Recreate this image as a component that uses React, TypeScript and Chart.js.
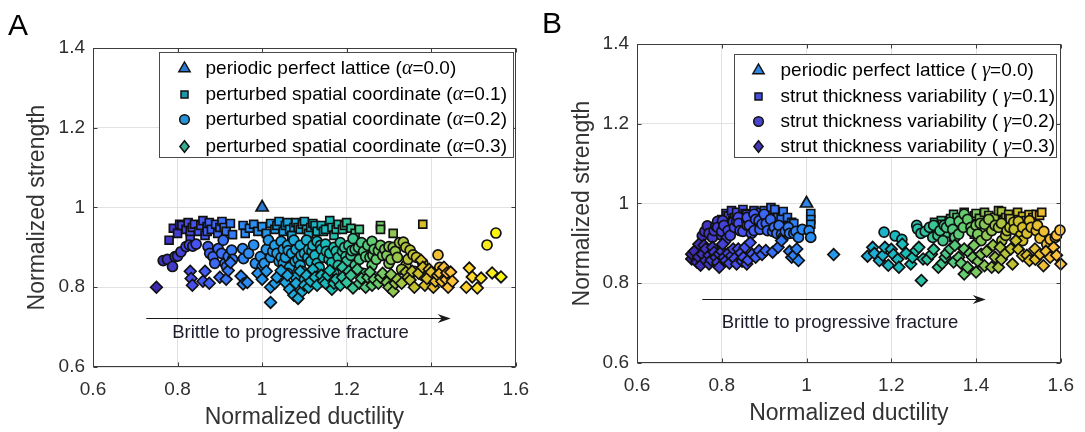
import React, { useEffect, useRef } from "react";
import { Chart, registerables } from "chart.js";

Chart.register(...registerables);

type Pt = [number, number];

// Axis ticks and labels shared by both panels
const xTickValues = [0.6, 0.8, 1.0, 1.2, 1.4, 1.6];
const yTickValues = [0.6, 0.8, 1.0, 1.2, 1.4];
const xAxisTitle = "Normalized ductility";
const yAxisTitle = "Normalized strength";
const arrowCaption = "Brittle to progressive fracture";

const levelValues = ["0.0", "0.1", "0.2", "0.3"];
const aSeriesNames = [
  "periodic perfect lattice",
  "perturbed spatial coordinate",
  "perturbed spatial coordinate",
  "perturbed spatial coordinate",
];
const bSeriesNames = [
  "periodic perfect lattice",
  "strut thickness variability",
  "strut thickness variability",
  "strut thickness variability",
];

// ---- Panel A: perturbed spatial coordinate (alpha) ----
const aTriangle: Pt[] = [[1.0, 1.0]];

const aSquares: Pt[] = [
  [0.78, 0.918], [0.79, 0.948], [0.8, 0.935], [0.805, 0.958], [0.81, 0.955], [0.82, 0.945],
  [0.825, 0.962], [0.83, 0.925], [0.83, 0.94], [0.835, 0.95], [0.84, 0.958], [0.85, 0.94],
  [0.855, 0.955], [0.86, 0.967], [0.865, 0.93], [0.87, 0.952], [0.87, 0.94], [0.875, 0.962],
  [0.88, 0.945], [0.89, 0.958], [0.895, 0.935], [0.9, 0.95], [0.905, 0.965], [0.91, 0.95],
  [0.915, 0.94], [0.925, 0.96], [0.93, 0.932],
  [0.955, 0.955], [0.96, 0.935], [0.97, 0.948], [0.98, 0.958], [0.99, 0.94], [1.0, 0.952],
  [1.01, 0.935], [1.02, 0.96], [1.03, 0.945], [1.035, 0.955], [1.04, 0.965], [1.05, 0.94],
  [1.055, 0.955], [1.06, 0.962], [1.065, 0.945], [1.07, 0.93], [1.075, 0.95], [1.08, 0.962],
  [1.085, 0.95], [1.09, 0.945], [1.095, 0.958], [1.1, 0.965], [1.105, 0.945], [1.11, 0.935],
  [1.115, 0.95], [1.12, 0.96], [1.125, 0.955], [1.13, 0.94], [1.14, 0.955], [1.145, 0.94],
  [1.15, 0.945], [1.16, 0.967], [1.165, 0.95], [1.17, 0.93], [1.175, 0.945], [1.18, 0.958],
  [1.19, 0.945], [1.195, 0.955], [1.2, 0.962], [1.21, 0.948], [1.22, 0.935], [1.23, 0.945],
  [1.28, 0.955], [1.28, 0.945], [1.31, 0.935], [1.38, 0.958],
];

const aCircles: Pt[] = [
  [0.766, 0.867], [0.776, 0.87], [0.788, 0.852], [0.794, 0.877], [0.8, 0.878], [0.808, 0.889],
  [0.82, 0.902], [0.828, 0.906], [0.836, 0.903], [0.844, 0.908],
  [0.872, 0.902], [0.876, 0.885], [0.884, 0.877], [0.888, 0.86], [0.896, 0.897], [0.904, 0.885],
  [0.908, 0.918], [0.912, 0.86], [0.916, 0.852], [0.92, 0.877], [0.928, 0.893], [0.93, 0.87],
  [0.954, 0.897], [0.956, 0.872], [0.968, 0.885], [0.98, 0.906], [0.984, 0.86], [0.996, 0.877],
  [1.0, 0.852], [1.005, 0.86], [1.01, 0.895], [1.015, 0.918], [1.02, 0.875], [1.025, 0.89],
  [1.03, 0.905], [1.035, 0.885], [1.04, 0.865], [1.045, 0.915], [1.045, 0.875], [1.05, 0.895],
  [1.05, 0.86], [1.055, 0.875], [1.06, 0.905], [1.062, 0.892], [1.065, 0.85], [1.07, 0.885],
  [1.075, 0.918], [1.078, 0.865], [1.08, 0.895], [1.085, 0.87], [1.09, 0.905], [1.09, 0.855],
  [1.092, 0.88], [1.095, 0.84], [1.1, 0.885], [1.105, 0.918], [1.108, 0.875], [1.11, 0.895],
  [1.115, 0.865], [1.118, 0.89], [1.12, 0.905], [1.125, 0.88], [1.13, 0.915], [1.13, 0.86],
  [1.135, 0.85], [1.138, 0.905], [1.14, 0.895], [1.145, 0.875], [1.15, 0.908], [1.152, 0.89],
  [1.158, 0.87], [1.16, 0.885], [1.165, 0.862], [1.17, 0.9], [1.175, 0.89], [1.18, 0.875],
  [1.18, 0.855], [1.185, 0.912], [1.19, 0.89], [1.195, 0.9], [1.198, 0.877], [1.2, 0.865],
  [1.205, 0.905], [1.21, 0.88], [1.212, 0.892], [1.215, 0.922], [1.22, 0.895], [1.22, 0.855],
  [1.228, 0.9], [1.23, 0.87], [1.235, 0.912], [1.24, 0.89], [1.245, 0.877], [1.25, 0.905],
  [1.255, 0.875], [1.26, 0.915], [1.26, 0.855], [1.262, 0.88], [1.265, 0.895], [1.27, 0.87],
  [1.275, 0.892], [1.28, 0.905], [1.285, 0.88], [1.29, 0.895], [1.295, 0.88], [1.3, 0.902],
  [1.3, 0.86], [1.305, 0.87], [1.31, 0.9], [1.315, 0.89], [1.32, 0.875], [1.325, 0.912],
  [1.334, 0.913], [1.34, 0.9], [1.34, 0.855], [1.345, 0.87], [1.35, 0.893], [1.357, 0.881],
  [1.365, 0.875], [1.38, 0.86],
  [1.06, 0.835], [1.08, 0.825], [1.1, 0.82], [1.12, 0.83], [1.14, 0.82], [1.17, 0.835],
  [1.2, 0.83], [1.24, 0.835], [1.29, 0.82], [1.31, 0.81], [1.33, 0.845], [1.36, 0.84],
  [1.38, 0.83], [1.416, 0.881], [1.42, 0.85], [1.43, 0.82], [1.532, 0.906], [1.553, 0.936],
];

const aDiamonds: Pt[] = [
  [0.75, 0.8], [0.83, 0.84], [0.832, 0.822], [0.835, 0.805], [0.86, 0.815], [0.865, 0.84],
  [0.875, 0.81], [0.9, 0.825], [0.915, 0.82], [0.92, 0.842], [0.925, 0.862], [0.95, 0.828],
  [0.955, 0.808], [0.965, 0.812], [0.99, 0.835], [1.0, 0.82], [1.01, 0.84], [1.02, 0.8],
  [1.02, 0.762], [1.03, 0.81], [1.035, 0.825], [1.045, 0.842], [1.055, 0.812], [1.06, 0.83],
  [1.065, 0.795], [1.075, 0.78], [1.08, 0.81], [1.085, 0.772], [1.09, 0.84], [1.095, 0.79],
  [1.1, 0.805], [1.105, 0.83], [1.11, 0.8], [1.115, 0.815], [1.12, 0.845], [1.125, 0.825],
  [1.13, 0.805], [1.14, 0.83], [1.145, 0.815], [1.15, 0.81], [1.155, 0.83], [1.16, 0.842],
  [1.165, 0.795], [1.17, 0.81], [1.175, 0.82], [1.185, 0.805], [1.19, 0.85], [1.19, 0.825],
  [1.2, 0.812], [1.205, 0.84], [1.21, 0.83], [1.215, 0.798], [1.225, 0.845], [1.23, 0.81],
  [1.235, 0.822], [1.245, 0.8], [1.25, 0.825], [1.255, 0.838], [1.26, 0.805], [1.265, 0.82],
  [1.275, 0.81], [1.28, 0.825], [1.285, 0.835], [1.295, 0.812], [1.3, 0.8], [1.305, 0.832],
  [1.31, 0.79], [1.315, 0.81], [1.32, 0.82], [1.33, 0.81], [1.34, 0.838], [1.345, 0.825],
  [1.35, 0.818], [1.355, 0.84], [1.36, 0.8], [1.37, 0.835], [1.376, 0.868], [1.38, 0.85],
  [1.385, 0.805], [1.39, 0.822], [1.395, 0.845], [1.4, 0.838], [1.405, 0.8], [1.41, 0.815],
  [1.415, 0.83], [1.42, 0.835], [1.425, 0.815], [1.43, 0.85], [1.435, 0.82], [1.437, 0.836],
  [1.44, 0.8], [1.446, 0.838], [1.45, 0.815], [1.483, 0.8], [1.49, 0.848], [1.497, 0.826],
  [1.509, 0.798], [1.518, 0.823], [1.544, 0.836], [1.565, 0.826],
];

// ---- Panel B: strut thickness variability (gamma) ----
const bTriangle: Pt[] = [[1.0, 1.0]];

const bSquares: Pt[] = [
  [0.778, 0.932], [0.794, 0.948], [0.8, 0.96], [0.81, 0.975], [0.815, 0.969], [0.823, 0.982],
  [0.826, 0.957], [0.83, 0.965], [0.835, 0.978], [0.843, 0.963], [0.85, 0.985], [0.855, 0.975],
  [0.859, 0.973], [0.867, 0.957], [0.87, 0.965], [0.876, 0.982], [0.88, 0.968], [0.885, 0.975],
  [0.892, 0.978], [0.9, 0.953], [0.9, 0.982], [0.908, 0.973], [0.915, 0.975], [0.916, 0.99],
  [0.925, 0.985], [0.932, 0.965], [0.94, 0.962], [0.945, 0.98], [0.955, 0.965], [0.965, 0.953],
  [0.97, 0.95], [1.01, 0.975], [1.01, 0.96], [1.01, 0.948],
  [1.302, 0.953], [1.306, 0.923], [1.31, 0.94], [1.318, 0.957], [1.32, 0.948], [1.326, 0.932],
  [1.33, 0.94], [1.33, 0.925], [1.34, 0.962], [1.347, 0.973], [1.347, 0.915], [1.355, 0.965],
  [1.359, 0.948], [1.36, 0.935], [1.365, 0.958], [1.372, 0.978], [1.375, 0.95], [1.383, 0.957],
  [1.39, 0.945], [1.396, 0.969], [1.396, 0.923], [1.4, 0.975], [1.408, 0.963], [1.41, 0.94],
  [1.42, 0.978], [1.42, 0.932], [1.428, 0.953], [1.43, 0.97], [1.435, 0.955], [1.444, 0.965],
  [1.45, 0.945], [1.453, 0.982], [1.46, 0.98], [1.465, 0.957], [1.47, 0.965], [1.477, 0.973],
  [1.48, 0.962], [1.493, 0.948], [1.498, 0.978], [1.5, 0.96], [1.51, 0.968], [1.518, 0.957],
  [1.525, 0.972], [1.534, 0.965], [1.542, 0.973], [1.55, 0.97], [1.555, 0.978],
];

const bCircles: Pt[] = [
  [0.754, 0.919], [0.76, 0.93], [0.766, 0.944], [0.77, 0.925], [0.778, 0.915], [0.782, 0.932],
  [0.786, 0.944], [0.79, 0.955], [0.79, 0.94], [0.8, 0.92], [0.8, 0.93], [0.802, 0.957],
  [0.805, 0.945], [0.81, 0.91], [0.815, 0.932], [0.82, 0.92], [0.827, 0.953], [0.83, 0.94],
  [0.835, 0.955], [0.839, 0.965], [0.84, 0.95], [0.843, 0.932], [0.85, 0.93], [0.859, 0.957],
  [0.86, 0.945], [0.86, 0.965], [0.865, 0.945], [0.87, 0.925], [0.876, 0.932], [0.876, 0.973],
  [0.88, 0.96], [0.888, 0.957], [0.89, 0.935], [0.895, 0.948], [0.9, 0.973], [0.905, 0.95],
  [0.908, 0.932], [0.915, 0.96], [0.92, 0.93], [0.924, 0.94], [0.93, 0.925], [0.935, 0.945],
  [0.941, 0.923], [0.945, 0.915], [0.95, 0.93], [0.957, 0.94], [0.96, 0.925], [0.97, 0.925],
  [0.975, 0.93], [0.981, 0.915], [0.99, 0.935], [1.006, 0.932], [1.01, 0.915],
  [1.183, 0.928], [1.209, 0.919], [1.225, 0.91], [1.26, 0.945], [1.262, 0.936], [1.27, 0.925],
  [1.28, 0.93], [1.29, 0.94], [1.298, 0.915], [1.3, 0.945], [1.31, 0.92], [1.315, 0.932],
  [1.322, 0.907], [1.325, 0.945], [1.33, 0.94], [1.339, 0.953], [1.345, 0.935], [1.35, 0.915],
  [1.359, 0.923], [1.36, 0.955], [1.37, 0.94], [1.372, 0.973], [1.38, 0.96], [1.388, 0.94],
  [1.39, 0.93], [1.4, 0.945], [1.404, 0.923], [1.41, 0.95], [1.412, 0.907], [1.42, 0.948],
  [1.425, 0.92], [1.43, 0.96], [1.437, 0.932], [1.445, 0.945], [1.453, 0.94], [1.46, 0.95],
  [1.461, 0.907], [1.47, 0.92], [1.473, 0.932], [1.48, 0.94], [1.489, 0.953], [1.49, 0.935],
  [1.5, 0.955], [1.505, 0.92], [1.51, 0.94], [1.51, 0.907], [1.52, 0.925], [1.526, 0.957],
  [1.53, 0.94], [1.542, 0.932], [1.545, 0.945], [1.551, 0.913], [1.56, 0.93], [1.567, 0.898],
  [1.575, 0.91], [1.587, 0.915], [1.59, 0.92], [1.598, 0.933],
];

const bDiamonds: Pt[] = [
  [0.729, 0.861], [0.729, 0.873], [0.735, 0.88], [0.741, 0.853], [0.745, 0.866], [0.746, 0.898],
  [0.75, 0.845], [0.754, 0.873], [0.758, 0.895], [0.762, 0.886], [0.762, 0.857], [0.77, 0.848],
  [0.77, 0.87], [0.775, 0.858], [0.778, 0.89], [0.782, 0.878], [0.786, 0.865], [0.79, 0.852],
  [0.794, 0.84], [0.794, 0.873], [0.8, 0.88], [0.802, 0.898], [0.805, 0.865], [0.81, 0.857],
  [0.815, 0.875], [0.818, 0.85], [0.823, 0.869], [0.827, 0.886], [0.83, 0.862], [0.835, 0.848],
  [0.839, 0.886], [0.845, 0.876], [0.848, 0.855], [0.851, 0.865], [0.855, 0.89], [0.859, 0.848],
  [0.862, 0.858], [0.867, 0.902], [0.872, 0.873], [0.88, 0.865], [0.888, 0.882], [0.895, 0.872],
  [0.904, 0.882], [0.92, 0.878], [0.933, 0.89], [0.941, 0.907], [0.96, 0.88], [0.965, 0.865],
  [0.97, 0.87], [0.977, 0.886], [0.981, 0.857],
  [1.064, 0.872],
  [1.144, 0.868], [1.156, 0.89], [1.16, 0.875], [1.172, 0.857], [1.18, 0.87], [1.185, 0.89],
  [1.193, 0.845], [1.2, 0.885], [1.205, 0.872], [1.215, 0.86], [1.218, 0.84], [1.226, 0.898],
  [1.235, 0.875], [1.246, 0.848], [1.25, 0.865], [1.258, 0.882], [1.265, 0.89], [1.271, 0.807],
  [1.275, 0.861], [1.285, 0.86], [1.295, 0.873], [1.3, 0.885], [1.311, 0.84], [1.32, 0.85],
  [1.327, 0.865], [1.33, 0.875], [1.339, 0.886], [1.347, 0.853], [1.35, 0.895], [1.359, 0.865],
  [1.365, 0.85], [1.372, 0.886], [1.372, 0.823], [1.38, 0.84], [1.385, 0.875], [1.392, 0.865],
  [1.395, 0.895], [1.4, 0.828], [1.405, 0.855], [1.412, 0.873], [1.42, 0.844], [1.425, 0.88],
  [1.437, 0.84], [1.44, 0.895], [1.445, 0.865], [1.453, 0.84], [1.457, 0.89], [1.46, 0.86],
  [1.47, 0.875], [1.482, 0.886], [1.486, 0.848], [1.494, 0.907], [1.5, 0.885], [1.51, 0.869],
  [1.52, 0.87], [1.526, 0.857], [1.539, 0.886], [1.54, 0.86], [1.551, 0.873], [1.559, 0.844],
  [1.565, 0.88], [1.575, 0.865], [1.583, 0.89], [1.59, 0.87], [1.6, 0.848],
];

// Parula colour map stops: [position, r, g, b]
const PARULA: number[][] = [
  [0 / 63, 62, 38, 168],
  [8 / 63, 72, 82, 244],
  [16 / 63, 46, 135, 247],
  [24 / 63, 32, 165, 227],
  [32 / 63, 25, 191, 182],
  [40 / 63, 100, 205, 111],
  [48 / 63, 209, 191, 39],
  [53 / 63, 254, 190, 60],
  [56 / 63, 252, 207, 48],
  [63 / 63, 249, 251, 14],
];

function parula(t: number): string {
  const u = Math.max(0, Math.min(1, t));
  for (let i = 1; i < PARULA.length; i++) {
    const a = PARULA[i - 1];
    const b = PARULA[i];
    if (u <= b[0]) {
      const f = (u - a[0]) / (b[0] - a[0]);
      const c = [1, 2, 3].map((k) => Math.round(a[k] + (b[k] - a[k]) * f));
      return `rgb(${c[0]},${c[1]},${c[2]})`;
    }
  }
  return "rgb(249,251,14)";
}

const SANS = '"Liberation Sans", Arial, Helvetica, sans-serif';
const SERIF = '"Liberation Serif", "Times New Roman", serif';
const EDGE = "#111111";

type Shape = "triangle" | "square" | "circle" | "diamond";
const legendShapes: Shape[] = ["triangle", "square", "circle", "diamond"];

interface PanelSpec {
  letter: string;
  letterX: number;
  letterY: number;
  canvasLeft: number;
  canvasWidth: number;
  yAxisWidth: number;
  xAxisHeight: number;
  padTop: number;
  padRight: number;
  yTitlePad: number;
  xTitlePad: number;
  colorRange: [number, number];
  greek: string;
  greekLead: string;
  names: string[];
  legendFill: string[];
  legendBox: { dx: number; dy: number; w: number; h: number; markerDx: number; textDx: number; rows: number[] };
  arrow: { x0: number; x1: number; y: number };
  caption: { x: number; y: number };
  triangle: Pt[];
  squares: Pt[];
  circles: Pt[];
  diamonds: Pt[];
  triangleFill: string;
}

const panelA: PanelSpec = {
  letter: "A",
  letterX: 8,
  letterY: 35,
  canvasLeft: 0,
  canvasWidth: 540,
  yAxisWidth: 93,
  xAxisHeight: 65,
  padTop: 48,
  padRight: 18,
  yTitlePad: 24,
  xTitlePad: 1,
  colorRange: [0.74, 1.57],
  greek: "α",
  greekLead: "",
  names: aSeriesNames,
  legendFill: ["#2a7ad2", "#1a98aa", "#2492da", "#33ae92"],
  legendBox: { dx: 66, dy: 4, w: 354, h: 105, markerDx: 25, textDx: 46, rows: [16, 42, 67, 94] },
  arrow: { x0: 0.726, x1: 1.446, y: 0.723 },
  caption: { x: 1.067, y: 0.685 },
  triangle: aTriangle,
  squares: aSquares,
  circles: aCircles,
  diamonds: aDiamonds,
  triangleFill: "#2a7ad2",
};

const panelB: PanelSpec = {
  letter: "B",
  letterX: 2,
  letterY: 33,
  canvasLeft: 540,
  canvasWidth: 545,
  yAxisWidth: 97,
  xAxisHeight: 69,
  padTop: 44,
  padRight: 19,
  yTitlePad: 29,
  xTitlePad: 5,
  colorRange: [0.72, 1.75],
  greek: "γ",
  greekLead: " ",
  names: bSeriesNames,
  legendFill: ["#2f86e6", "#4850d8", "#4a44cc", "#4636b8"],
  legendBox: { dx: 97, dy: 10, w: 322, h: 103, markerDx: 24, textDx: 46, rows: [16, 42, 67, 92] },
  arrow: { x0: 0.754, x1: 1.423, y: 0.76 },
  caption: { x: 1.079, y: 0.7 },
  triangle: bTriangle,
  squares: bSquares,
  circles: bCircles,
  diamonds: bDiamonds,
  triangleFill: "#2f86e6",
};

function drawShape(ctx: CanvasRenderingContext2D, shape: Shape, x: number, y: number, fill: string) {
  ctx.beginPath();
  if (shape === "triangle") {
    const r = 6.5;
    ctx.moveTo(x, y - r);
    ctx.lineTo(x + r * 0.866, y + r * 0.5);
    ctx.lineTo(x - r * 0.866, y + r * 0.5);
    ctx.closePath();
  } else if (shape === "square") {
    ctx.rect(x - 3.5, y - 3.5, 7, 7);
  } else if (shape === "circle") {
    ctx.arc(x, y, 4.8, 0, Math.PI * 2);
  } else {
    ctx.moveTo(x, y - 5.8);
    ctx.lineTo(x + 4.6, y);
    ctx.lineTo(x, y + 5.8);
    ctx.lineTo(x - 4.6, y);
    ctx.closePath();
  }
  ctx.fillStyle = fill;
  ctx.fill();
  ctx.lineWidth = 1.5;
  ctx.strokeStyle = EDGE;
  ctx.stroke();
}

const decorPlugin = {
  id: "panelDecor",
  afterDatasetsDraw(chart: any, _args: any, opts: any) {
    const spec: PanelSpec = opts.spec;
    if (!spec) return;
    const { ctx, chartArea: ca } = chart;
    const xs = chart.scales.x;
    const ys = chart.scales.y;
    ctx.save();

    // axes box with inward ticks
    const L = Math.round(ca.left) + 0.5;
    const R = Math.round(ca.right) - 0.5;
    const T = Math.round(ca.top) + 0.5;
    const B = Math.round(ca.bottom) - 0.5;
    ctx.strokeStyle = "#3c3c3c";
    ctx.lineWidth = 1;
    ctx.strokeRect(L, T, R - L, B - T);
    ctx.beginPath();
    for (const v of xTickValues) {
      const px = Math.round(xs.getPixelForValue(v)) + 0.5;
      ctx.moveTo(px, B);
      ctx.lineTo(px, B - 4);
      ctx.moveTo(px, T);
      ctx.lineTo(px, T + 4);
    }
    for (const v of yTickValues) {
      const py = Math.round(ys.getPixelForValue(v)) + 0.5;
      ctx.moveTo(L, py);
      ctx.lineTo(L + 4, py);
      ctx.moveTo(R, py);
      ctx.lineTo(R - 4, py);
    }
    ctx.stroke();

    // fracture-mode arrow and caption
    const ax0 = xs.getPixelForValue(spec.arrow.x0);
    const ax1 = xs.getPixelForValue(spec.arrow.x1);
    const ay = Math.round(ys.getPixelForValue(spec.arrow.y)) + 0.5;
    ctx.strokeStyle = "#1a1a1a";
    ctx.lineWidth = 1.2;
    ctx.beginPath();
    ctx.moveTo(ax0, ay);
    ctx.lineTo(ax1 - 6, ay);
    ctx.stroke();
    ctx.fillStyle = "#1a1a1a";
    ctx.beginPath();
    ctx.moveTo(ax1, ay);
    ctx.lineTo(ax1 - 13, ay - 4.5);
    ctx.lineTo(ax1 - 9, ay);
    ctx.lineTo(ax1 - 13, ay + 4.5);
    ctx.closePath();
    ctx.fill();

    ctx.font = `18.5px ${SANS}`;
    ctx.fillStyle = "#1c1c2a";
    ctx.textAlign = "center";
    ctx.textBaseline = "middle";
    ctx.fillText(arrowCaption, xs.getPixelForValue(spec.caption.x), ys.getPixelForValue(spec.caption.y));

    // legend
    const lb = spec.legendBox;
    const bx = Math.round(ca.left + lb.dx) + 0.5;
    const by = Math.round(ca.top + lb.dy) + 0.5;
    ctx.fillStyle = "#ffffff";
    ctx.fillRect(bx, by, lb.w, lb.h);
    ctx.strokeStyle = "#4a4a4a";
    ctx.lineWidth = 1;
    ctx.strokeRect(bx, by, lb.w, lb.h);
    ctx.textAlign = "left";
    ctx.textBaseline = "middle";
    spec.names.forEach((name, i) => {
      const cy = by + lb.rows[i];
      drawShape(ctx, legendShapes[i], bx + lb.markerDx, cy, spec.legendFill[i]);
      let tx = bx + lb.textDx;
      const head = `${name} (${spec.greekLead}`;
      ctx.fillStyle = "#000";
      ctx.font = `19px ${SANS}`;
      ctx.fillText(head, tx, cy);
      tx += ctx.measureText(head).width;
      ctx.font = `italic 20px ${SERIF}`;
      ctx.fillText(spec.greek, tx, cy);
      tx += ctx.measureText(spec.greek).width;
      ctx.font = `19px ${SANS}`;
      ctx.fillText(`=${levelValues[i]})`, tx, cy);
    });
    ctx.restore();
  },
  afterDraw(chart: any, _args: any, opts: any) {
    const spec: PanelSpec = opts.spec;
    if (!spec) return;
    const { ctx } = chart;
    ctx.save();
    ctx.font = `30px ${SANS}`;
    ctx.fillStyle = "#000";
    ctx.textAlign = "left";
    ctx.textBaseline = "alphabetic";
    ctx.fillText(spec.letter, spec.letterX, spec.letterY);
    ctx.restore();
  },
};

function toPoints(pts: Pt[]) {
  return pts.map(([x, y]) => ({ x, y }));
}

function tickText(v: any) {
  return String(Number(Number(v).toFixed(1)));
}

function makeConfig(spec: PanelSpec): any {
  const [lo, hi] = spec.colorRange;
  const fillByDuctility = (c: any) => (c.raw ? parula((c.raw.x - lo) / (hi - lo)) : "#888");
  const base = {
    backgroundColor: fillByDuctility,
    borderColor: EDGE,
    pointBorderColor: EDGE,
    pointBackgroundColor: fillByDuctility,
    pointBorderWidth: 1.7,
    pointHoverRadius: 0,
    clip: false,
  };
  return {
    type: "scatter",
    data: {
      datasets: [
        { ...base, label: "d", data: toPoints(spec.diamonds), pointStyle: "rectRot", pointRadius: 5.8 },
        { ...base, label: "c", data: toPoints(spec.circles), pointStyle: "circle", pointRadius: 5 },
        { ...base, label: "s", data: toPoints(spec.squares), pointStyle: "rect", pointRadius: 5.6 },
        {
          ...base,
          label: "t",
          data: toPoints(spec.triangle),
          pointStyle: "triangle",
          pointRadius: 7,
          pointBackgroundColor: spec.triangleFill,
          backgroundColor: spec.triangleFill,
        },
      ],
    },
    options: {
      animation: false,
      responsive: false,
      devicePixelRatio: 1,
      events: [],
      layout: { padding: { left: 0, right: spec.padRight, top: spec.padTop, bottom: 0 } },
      plugins: {
        legend: { display: false },
        tooltip: { enabled: false },
        panelDecor: { spec },
      },
      scales: {
        x: {
          type: "linear",
          position: "bottom",
          min: 0.6,
          max: 1.6,
          afterBuildTicks: (s: any) => {
            s.ticks = xTickValues.map((value) => ({ value }));
          },
          afterFit: (s: any) => {
            s.height = spec.xAxisHeight;
          },
          ticks: { padding: 11, color: "#2e2e2e", font: { family: SANS, size: 19 }, callback: tickText, maxRotation: 0 },
          grid: { color: "#e2e2e2", lineWidth: 1, drawTicks: false },
          border: { display: false },
          title: {
            display: true,
            text: xAxisTitle,
            color: "#333",
            font: { family: SANS, size: 23 },
            padding: { top: 0, bottom: spec.xTitlePad },
          },
        },
        y: {
          type: "linear",
          position: "left",
          min: 0.6,
          max: 1.4,
          afterBuildTicks: (s: any) => {
            s.ticks = yTickValues.map((value) => ({ value }));
          },
          afterFit: (s: any) => {
            s.width = spec.yAxisWidth;
          },
          ticks: { padding: 8, color: "#2e2e2e", font: { family: SANS, size: 19 }, callback: tickText },
          grid: { color: "#e2e2e2", lineWidth: 1, drawTicks: false },
          border: { display: false },
          title: {
            display: true,
            text: yAxisTitle,
            color: "#333",
            font: { family: SANS, size: 23 },
            padding: { top: spec.yTitlePad, bottom: 0 },
          },
        },
      },
    },
    plugins: [decorPlugin],
  };
}

function PanelChart({ spec }: { spec: PanelSpec }) {
  const ref = useRef<HTMLCanvasElement>(null);
  useEffect(() => {
    if (!ref.current) return;
    const chart = new Chart(ref.current, makeConfig(spec));
    return () => chart.destroy();
  }, [spec]);
  return (
    <canvas
      ref={ref}
      width={spec.canvasWidth}
      height={432}
      style={{ position: "absolute", left: spec.canvasLeft, top: 0, width: spec.canvasWidth, height: 432 }}
    />
  );
}

export default function App() {
  return (
    <div
      style={{
        position: "fixed",
        left: 0,
        top: 0,
        width: 1085,
        height: 432,
        background: "#fff",
        overflow: "hidden",
      }}
    >
      <PanelChart spec={panelA} />
      <PanelChart spec={panelB} />
    </div>
  );
}
